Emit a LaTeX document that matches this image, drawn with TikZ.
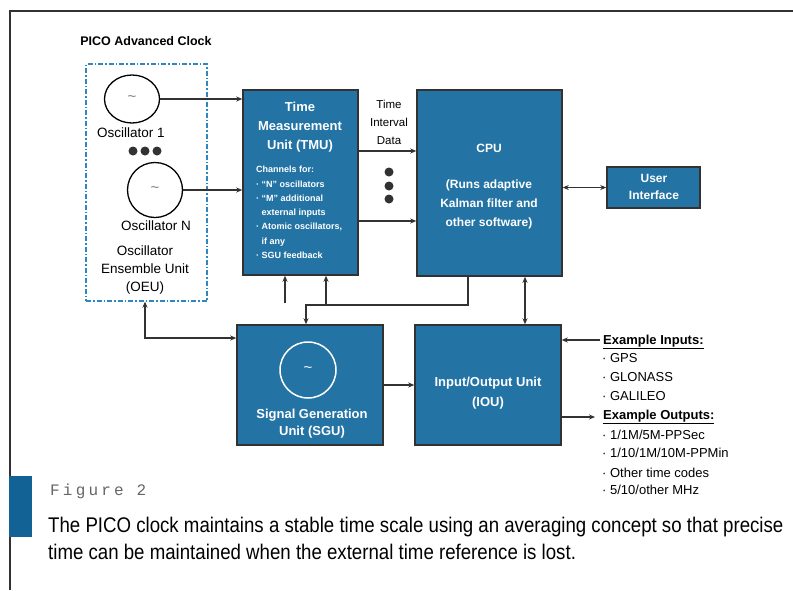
\documentclass[tikz,border=0pt]{standalone}
\usepackage{fontspec}
\setmainfont{Liberation Sans}
\newfontfamily\capfont[FakeStretch=0.88]{Liberation Sans}
\newfontfamily\figfont[LetterSpace=20]{Liberation Mono}
\usetikzlibrary{arrows.meta,calc,shapes.geometric}
\definecolor{boxblue}{RGB}{35,115,165}
\definecolor{barblue}{RGB}{18,98,150}
\definecolor{edge}{RGB}{50,50,50}
\definecolor{dashblue}{RGB}{45,135,195}
\begin{document}
\begin{tikzpicture}[x=1pt,y=-1pt,
  blk/.style={draw=edge, line width=1.5pt, fill=boxblue, inner sep=0pt},
  arr/.style={draw=edge, line width=1.3pt, -{Stealth[length=6pt,width=5pt]}},
  darr/.style={draw=edge, line width=1.3pt, {Stealth[length=6pt,width=5pt]}-{Stealth[length=6pt,width=5pt]}},
  wtitle/.style={text=white, font=\bfseries\fontsize{13}{19}\selectfont, align=center, inner sep=0pt},
  lbl/.style={text=black, font=\fontsize{13.5}{18}\selectfont, align=center, inner sep=0pt},
  osc/.style={draw=black, fill=white, line width=1.3pt, inner sep=0pt},
  tld/.style={font=\fontsize{15}{15}\selectfont, text=gray},
  dot/.style={circle, fill=edge, minimum size=9pt, inner sep=0pt},
  ex/.style={anchor=west, inner sep=0pt, font=\fontsize{13}{15}\selectfont}
]
\useasboundingbox (0,0) rectangle (793,590);
\fill[white] (0,0) rectangle (793,590);
% frame
\draw[edge, line width=2pt] (9,11) -- (793,11);
\draw[edge, line width=1.6pt] (10,11) -- (10,590);
\fill[barblue] (9,476) rectangle (32,537);

% title
\node[font=\bfseries\fontsize{12.5}{14}\selectfont, inner sep=0pt] (title) at (146,41) {PICO Advanced Clock};

% OEU
\node[draw=dashblue, line width=1.3pt, dash pattern=on 5pt off 2pt on 1.5pt off 2pt,
      minimum width=121pt, minimum height=237pt, inner sep=0pt] (oeu) at (146.5,182.5) {};
\node[osc, ellipse, minimum width=55pt, minimum height=48pt] (osc1) at (132,99) {};
\node[tld] (t1) at (osc1) {\textasciitilde};
\node[lbl] (osc1l) at (131,133) {Oscillator 1};
\node[dot] (d1) at (133,151) {};
\node[dot] (d2) at (145,151) {};
\node[dot] (d3) at (157,151) {};
\node[osc, circle, minimum size=55pt] (oscN) at (155,190) {};
\node[tld] (tN) at (oscN) {\textasciitilde};
\node[lbl] (oscNl) at (156,226) {Oscillator N};
\node[lbl] (oeul) at (145,270) {Oscillator\\Ensemble Unit\\(OEU)};

% boxes
\node[blk, minimum width=115pt, minimum height=185pt] (tmu) at (300.5,182.5) {};
\node[blk, minimum width=145pt, minimum height=186pt] (cpu) at (489.5,183) {};
\node[blk, minimum width=93pt, minimum height=41pt] (ui) at (653.5,187.5) {};
\node[blk, minimum width=146pt, minimum height=120pt] (sgu) at (310,385) {};
\node[blk, minimum width=146pt, minimum height=120pt] (iou) at (488,385) {};

% box texts
\node[wtitle] (tmut) at (300,127.5) {Time\\Measurement\\Unit (TMU)};
\node[anchor=north west, inner sep=0pt, text=white, align=left,
      font=\bfseries\fontsize{9}{14.3}\selectfont] (tmul) at (256,166)
  {Channels for:\\· “N” oscillators\\· “M” additional\\\phantom{· }external inputs\\· Atomic oscillators,\\\phantom{· }if any\\· SGU feedback};
\node[wtitle, font=\bfseries\fontsize{12}{19}\selectfont] (cput) at (489,148) {CPU};
\node[wtitle, font=\bfseries\fontsize{12}{19}\selectfont] (cpus) at (489,204) {(Runs adaptive\\Kalman filter and\\other software)};
\node[wtitle, font=\bfseries\fontsize{12}{17}\selectfont] (uit) at (654,187) {User\\Interface};
\node[circle, draw=white, line width=1.5pt, minimum size=56pt, inner sep=0pt] (sgc) at (308,370) {};
\node[tld, text=white] (sgt) at (sgc) {\textasciitilde};
\node[wtitle, font=\bfseries\fontsize{13}{17}\selectfont] (sgut) at (312,424) {Signal Generation\\Unit (SGU)};
\node[wtitle, font=\bfseries\fontsize{13}{20}\selectfont] (iout) at (488,393) {Input/Output Unit\\(IOU)};

% time interval data
\node[lbl, font=\fontsize{11.5}{18}\selectfont] (tid) at (389,122) {Time\\Interval\\Data};
\node[dot] (v1) at (389,172) {};
\node[dot] (v2) at (389,186) {};
\node[dot] (v3) at (389,199) {};

% connectors
\draw[arr] (osc1.east) -- (osc1.east -| tmu.west);
\draw[arr] (oscN.east) -- (oscN.east -| tmu.west);
\coordinate (ya) at (0,151);
\coordinate (yb) at (0,221);
\draw[arr] (ya -| tmu.east) -- (ya -| cpu.west);
\draw[arr] (yb -| tmu.east) -- (yb -| cpu.west);
\draw[darr] (ui.west -| cpu.east) -- (ui.west);
\coordinate (jy) at (0,305);
\coordinate (jx) at (306,0);
\coordinate (cx) at (468,0);
\draw[arr] (cx |- cpu.south) -- (cx |- jy) -- (jx |- jy) -- (jx |- sgu.north);
\coordinate (a1) at (285,303);
\draw[arr] (a1) -- (a1 |- tmu.south);
\coordinate (a2) at (326,0);
\draw[arr] (a2 |- jy) -- (a2 |- tmu.south);
\coordinate (bx) at (525,0);
\draw[darr] (bx |- cpu.south) -- (bx |- iou.north);
\coordinate (ox) at (145,338);
\draw[darr] (ox |- oeu.south) -- (ox) -- (ox -| sgu.west);
\draw[arr] (sgu.east) -- (iou.west);
\coordinate (inS) at (600,340);
\draw[arr] (inS) -- (inS -| iou.east);
\coordinate (outE) at (595,417);
\draw[arr] (outE -| iou.east) -- (outE);

% examples
\node[ex, font=\bfseries\fontsize{13}{15}\selectfont] (e1) at (603,342) {\underline{Example Inputs:}};
\node[ex] (e2) at (602,358) {· GPS};
\node[ex] (e3) at (602,377) {· GLONASS};
\node[ex] (e4) at (602,396) {· GALILEO};
\node[ex, font=\bfseries\fontsize{13}{15}\selectfont] (e5) at (603,417) {\underline{Example Outputs:}};
\node[ex] (e6) at (602,435) {· 1/1M/5M-PPSec};
\node[ex] (e7) at (602,453) {· 1/10/1M/10M-PPMin};
\node[ex] (e8) at (602,473) {· Other time codes};
\node[ex] (e9) at (602,490) {· 5/10/other MHz};

% caption
\node[anchor=west, inner sep=0pt, text=gray!80!black, font=\figfont\fontsize{16}{16}\selectfont] (fig) at (50,491) {Figure 2};
\node[anchor=west, inner sep=0pt, font=\capfont\fontsize{21.2}{24}\selectfont] (cap1) at (48,527) {The PICO clock maintains a stable time scale using an averaging concept so that precise};
\node[anchor=west, inner sep=0pt, font=\capfont\fontsize{21.2}{24}\selectfont] (cap2) at (48,552) {time can be maintained when the external time reference is lost.};
\end{tikzpicture}
\end{document}
